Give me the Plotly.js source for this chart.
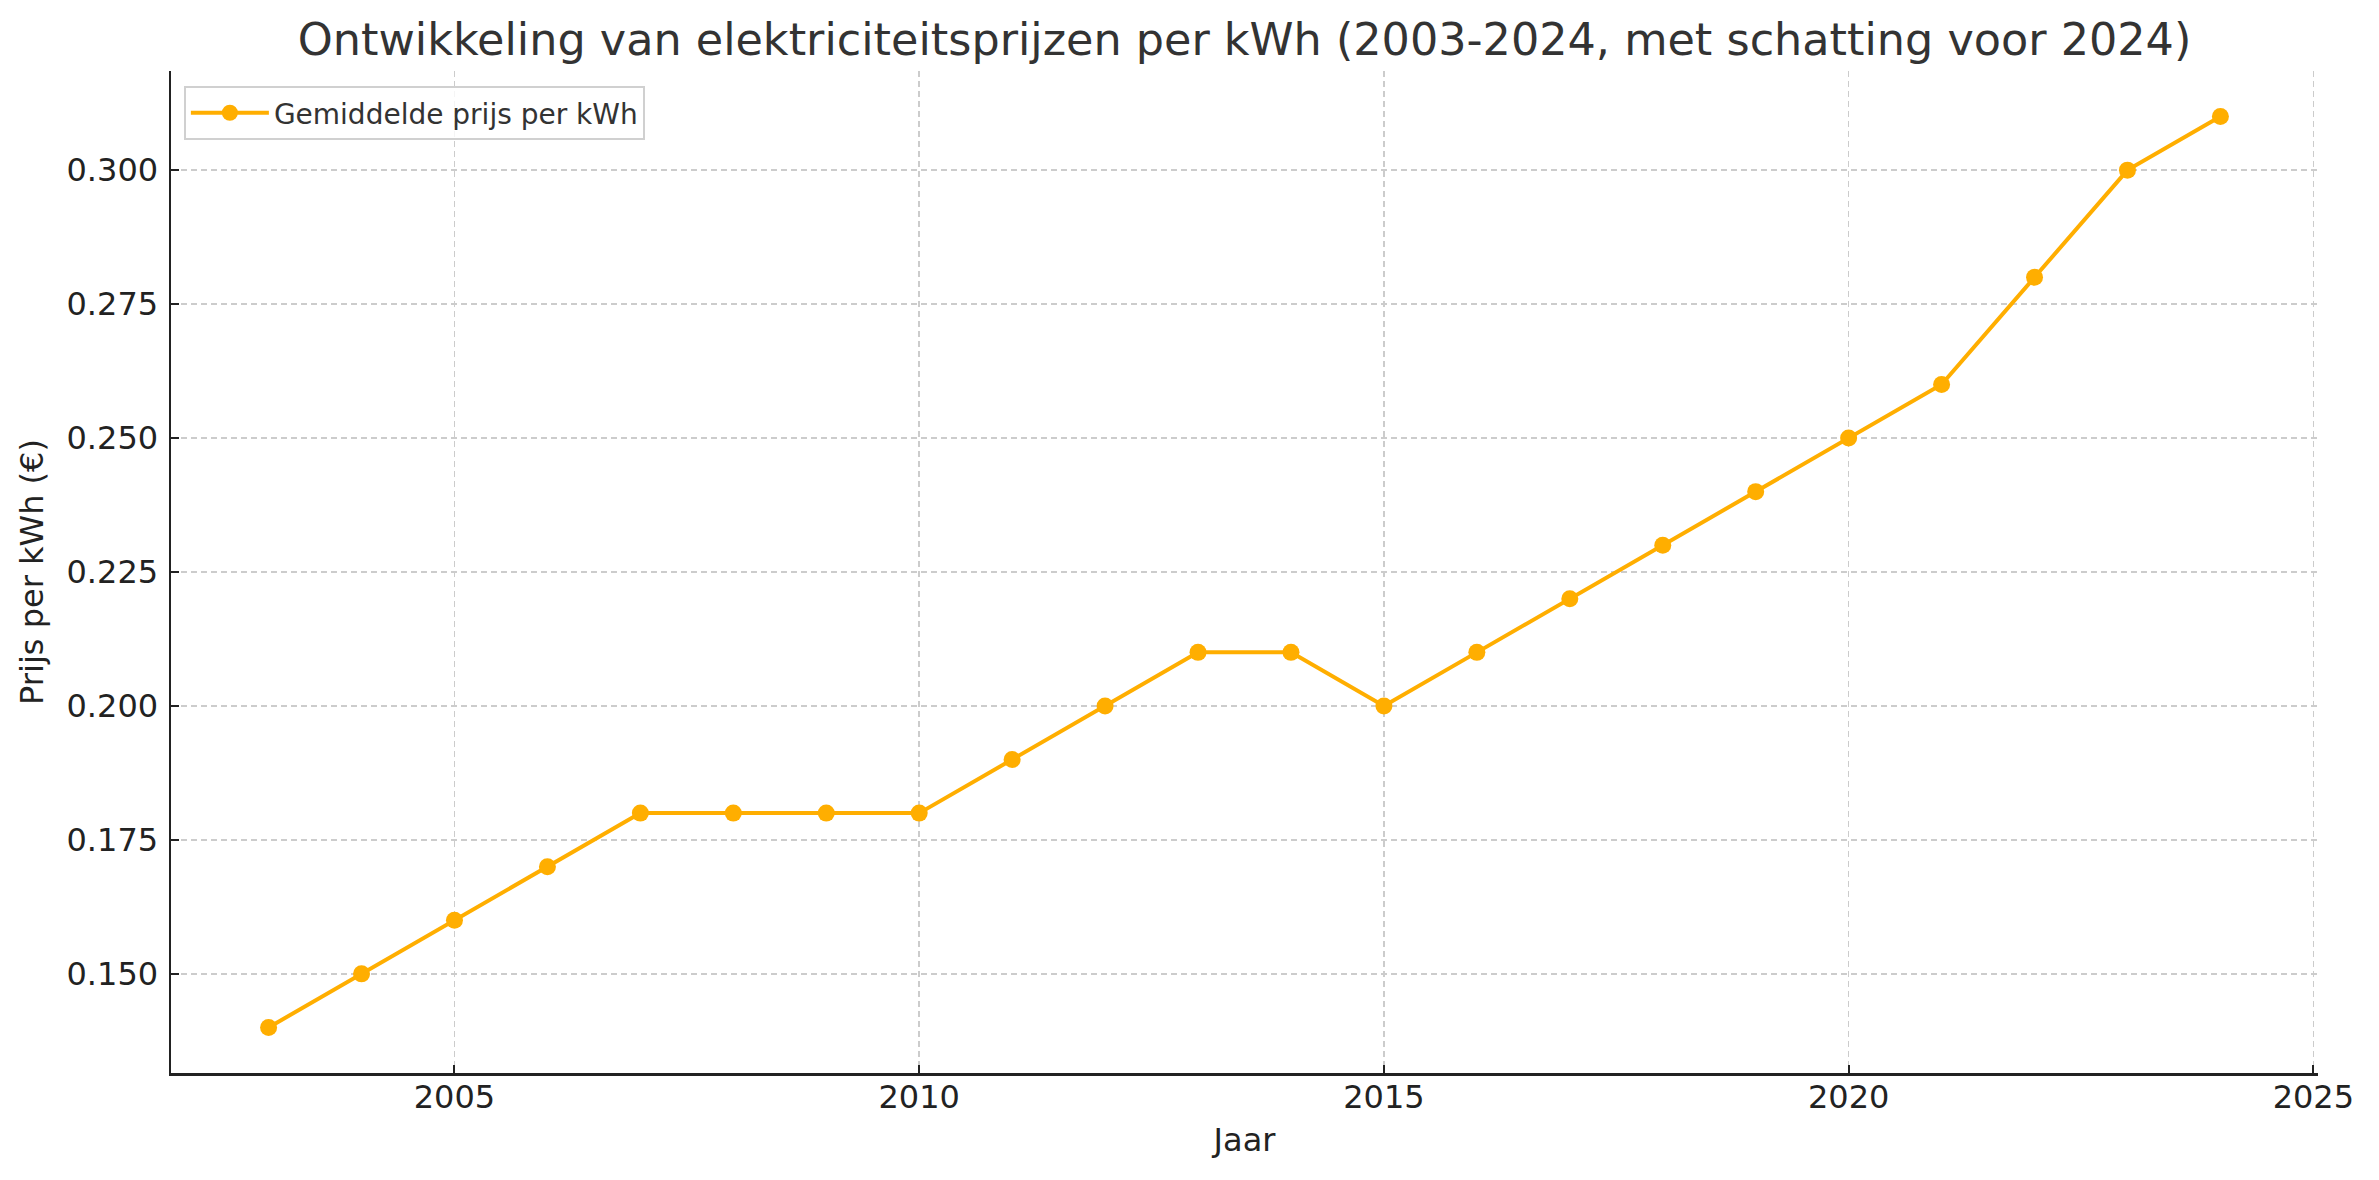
<!DOCTYPE html>
<html>
<head>
<meta charset="utf-8">
<script src="https://cdn.plot.ly/plotly-3.0.1.min.js"></script>
<style>
html,body{margin:0;padding:0;background:#fff;}
#chart{width:2379px;height:1180px;}
</style>
</head>
<body>
<div id="chart"></div>
<script>
const years = [2003,2004,2005,2006,2007,2008,2009,2010,2011,2012,2013,2014,2015,2016,2017,2018,2019,2020,2021,2022,2023,2024];
const prices = [0.14,0.15,0.16,0.17,0.18,0.18,0.18,0.18,0.19,0.20,0.21,0.21,0.20,0.21,0.22,0.23,0.24,0.25,0.26,0.28,0.30,0.31];
const seriesName = 'Gemiddelde prijs per kWh';
const chartTitle = 'Ontwikkeling van elektriciteitsprijzen per kWh (2003-2024, met schatting voor 2024)';
const xTitle = 'Jaar';
const yTitle = 'Prijs per kWh (€)';

const font = 'DejaVu Sans, sans-serif';
const lineColor = '#FFAE00';

const trace = {
  x: years, y: prices, name: seriesName, type: 'scatter', mode: 'lines+markers',
  line: {color: lineColor, width: 4},
  marker: {color: lineColor, size: 17},
  showlegend: true
};

const axisCommon = {
  showline: true, linecolor: '#222', linewidth: 2.5,
  ticks: 'inside', ticklen: 8, tickwidth: 2, tickcolor: '#222',
  showgrid: true, gridcolor: '#cccccc', gridwidth: 1.5, griddash: '6px,4px',
  zeroline: false, mirror: false,
  tickfont: {family: font, size: 32, color: '#222'}
};

const layout = {
  width: 2379, height: 1180,
  paper_bgcolor: '#fff', plot_bgcolor: '#fff',
  margin: {l: 171, r: 61, t: 71, b: 107},
  title: {text: chartTitle, font: {family: font, size: 44.5, color: '#333'}, x: 0.5, xref: 'paper', xanchor: 'center', y: 0.967, yref: 'container', yanchor: 'middle'},
  xaxis: Object.assign({}, axisCommon, {
    range: [2001.95, 2025.05], tick0: 2005, dtick: 5, ticklabelstandoff: -6,
    title: {text: xTitle, font: {family: font, size: 32, color: '#222'}, standoff: 14}
  }),
  yaxis: Object.assign({}, axisCommon, {
    range: [0.1315, 0.3185], tick0: 0.15, dtick: 0.025, tickformat: '.3f', ticklabelstandoff: 4,
    title: {text: yTitle, font: {family: font, size: 32, color: '#222'}, standoff: 14}
  }),
  legend: {
    x: 0.006, y: 0.985, xanchor: 'left', yanchor: 'top',
    bgcolor: 'rgba(255,255,255,0.8)', bordercolor: '#d0d0d0', borderwidth: 2,
    font: {family: font, size: 28, color: '#333'}, itemwidth: 78
  },
  hovermode: false
};

Plotly.newPlot('chart', [trace], layout, {staticPlot: true, displayModeBar: false});
</script>
</body>
</html>
